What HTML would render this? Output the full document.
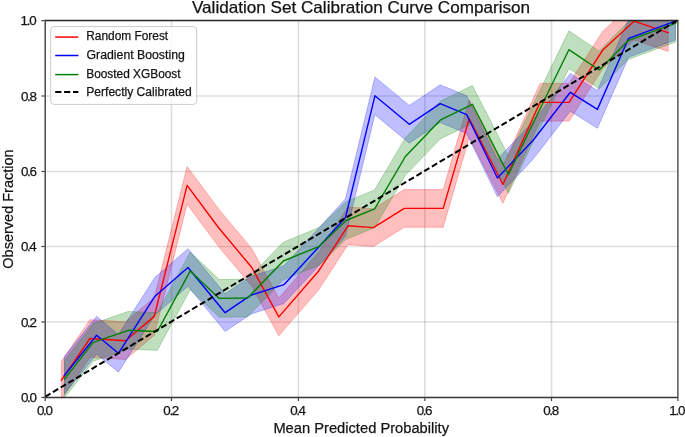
<!DOCTYPE html>
<html><head><meta charset="utf-8"><style>
html,body{margin:0;padding:0;background:#fff;}
body{width:685px;height:437px;overflow:hidden;position:relative;}
svg{position:absolute;left:0;top:0;will-change:transform;}
text{font-family:"Liberation Sans",sans-serif;fill:#141414;stroke:#141414;stroke-width:0.25px;}
</style></head><body>
<svg width="685" height="437" viewBox="0 0 685 437">
<defs><clipPath id="ax"><rect x="45.2" y="20.66" width="632.7" height="376.79"/></clipPath></defs>

<line x1="45.2" y1="20.66" x2="45.2" y2="397.45" stroke="#000" stroke-opacity="0.135" stroke-width="1.6"/>
<line x1="45.2" y1="397.45" x2="677.9" y2="397.45" stroke="#000" stroke-opacity="0.135" stroke-width="1.6"/>
<line x1="171.5" y1="20.66" x2="171.5" y2="397.45" stroke="#000" stroke-opacity="0.135" stroke-width="1.6"/>
<line x1="45.2" y1="322" x2="677.9" y2="322" stroke="#000" stroke-opacity="0.135" stroke-width="1.6"/>
<line x1="298.4" y1="20.66" x2="298.4" y2="397.45" stroke="#000" stroke-opacity="0.135" stroke-width="1.6"/>
<line x1="45.2" y1="246.5" x2="677.9" y2="246.5" stroke="#000" stroke-opacity="0.135" stroke-width="1.6"/>
<line x1="424.85" y1="20.66" x2="424.85" y2="397.45" stroke="#000" stroke-opacity="0.135" stroke-width="1.6"/>
<line x1="45.2" y1="171.5" x2="677.9" y2="171.5" stroke="#000" stroke-opacity="0.135" stroke-width="1.6"/>
<line x1="551.5" y1="20.66" x2="551.5" y2="397.45" stroke="#000" stroke-opacity="0.135" stroke-width="1.6"/>
<line x1="45.2" y1="96" x2="677.9" y2="96" stroke="#000" stroke-opacity="0.135" stroke-width="1.6"/>
<line x1="677.9" y1="20.66" x2="677.9" y2="397.45" stroke="#000" stroke-opacity="0.135" stroke-width="1.6"/>
<line x1="45.2" y1="20.66" x2="677.9" y2="20.66" stroke="#000" stroke-opacity="0.135" stroke-width="1.6"/>
<g clip-path="url(#ax)">
<path d="M61.4 361.36 L90 319.66 L125.5 321.86 L154.3 297.56 L187.1 166.56 L218.4 208.66 L251.8 248.66 L278.8 298.06 L318.5 252.36 L348 206.96 L373.4 208.76 L404.3 189.56 L443.2 189.56 L469.2 99.86 L502.9 165.66 L540 83.56 L569.2 83.36 L602.8 31.16 L634 2.36 L668.2 13.76 L668.2 51.44 L634 40.04 L602.8 68.84 L569.2 121.04 L540 121.24 L502.9 203.34 L469.2 137.54 L443.2 227.24 L404.3 227.24 L373.4 246.44 L348 244.64 L318.5 290.04 L278.8 335.74 L251.8 286.34 L218.4 246.34 L187.1 204.24 L154.3 335.24 L125.5 359.54 L90 357.34 L61.4 399.04 Z" fill="#ff0000" fill-opacity="0.25" stroke="#ff0000" stroke-opacity="0.25" stroke-width="1" stroke-linejoin="round"/>
<path d="M64.3 356.66 L96.6 316.36 L118.4 334.46 L155 277.36 L188 248.66 L225.1 293.86 L250.7 276.46 L283.9 265.86 L316 231.16 L345.5 198.66 L374.9 76.96 L409.3 105.46 L440.2 84.86 L466.7 95.76 L497.4 159.16 L533 121.66 L570.3 73.46 L597.4 90.56 L628.6 19.46 L675.3 2.36 L675.3 40.04 L628.6 57.14 L597.4 128.24 L570.3 111.14 L533 159.34 L497.4 196.84 L466.7 133.44 L440.2 122.54 L409.3 143.14 L374.9 114.64 L345.5 236.34 L316 268.84 L283.9 303.54 L250.7 314.14 L225.1 331.54 L188 286.34 L155 315.04 L118.4 372.14 L96.6 354.04 L64.3 394.34 Z" fill="#0000ff" fill-opacity="0.25" stroke="#0000ff" stroke-opacity="0.25" stroke-width="1" stroke-linejoin="round"/>
<path d="M64.6 360.16 L93.2 323.56 L128.2 311.46 L157.3 312.66 L190.3 252.06 L219.2 279.56 L247.6 279.16 L283.3 242.16 L319.2 227.46 L346 201.66 L374.6 189.96 L405.4 137.66 L440.2 101.36 L472.4 85.46 L508.4 155.76 L538.5 93.16 L568.9 30.86 L599.2 51.16 L628.1 21.86 L675.7 4.36 L675.7 42.04 L628.1 59.54 L599.2 88.84 L568.9 68.54 L538.5 130.84 L508.4 193.44 L472.4 123.14 L440.2 139.04 L405.4 175.34 L374.6 227.64 L346 239.34 L319.2 265.14 L283.3 279.84 L247.6 316.84 L219.2 317.24 L190.3 289.74 L157.3 350.34 L128.2 349.14 L93.2 361.24 L64.6 397.84 Z" fill="#008000" fill-opacity="0.25" stroke="#008000" stroke-opacity="0.25" stroke-width="1" stroke-linejoin="round"/>
<path d="M61.4 380.2 L90 338.5 L125.5 340.7 L154.3 316.4 L187.1 185.4 L218.4 227.5 L251.8 267.5 L278.8 316.9 L318.5 271.2 L348 225.8 L373.4 227.6 L404.3 208.4 L443.2 208.4 L469.2 118.7 L502.9 184.5 L540 102.4 L569.2 102.2 L602.8 50 L634 21.2 L668.2 32.6" fill="none" stroke="#ff0000" stroke-width="1.4" stroke-linejoin="round" stroke-linecap="square"/>
<path d="M64.3 375.5 L96.6 335.2 L118.4 353.3 L155 296.2 L188 267.5 L225.1 312.7 L250.7 295.3 L283.9 284.7 L316 250 L345.5 217.5 L374.9 95.8 L409.3 124.3 L440.2 103.7 L466.7 114.6 L497.4 178 L533 140.5 L570.3 92.3 L597.4 109.4 L628.6 38.3 L675.3 21.2" fill="none" stroke="#0000ff" stroke-width="1.4" stroke-linejoin="round" stroke-linecap="square"/>
<path d="M64.6 379 L93.2 342.4 L128.2 330.3 L157.3 331.5 L190.3 270.9 L219.2 298.4 L247.6 298 L283.3 261 L319.2 246.3 L346 220.5 L374.6 208.8 L405.4 156.5 L440.2 120.2 L472.4 104.3 L508.4 174.6 L538.5 112 L568.9 49.7 L599.2 70 L628.1 40.7 L675.7 23.2" fill="none" stroke="#008000" stroke-width="1.4" stroke-linejoin="round" stroke-linecap="square"/>
<line x1="45.2" y1="396.7" x2="677.9" y2="20.2" stroke="#000" stroke-width="2.0" stroke-dasharray="6.1 2.9"/>
</g>
<line x1="44.5" y1="20.62" x2="678.6" y2="20.62" stroke="#000" stroke-opacity="0.8" stroke-width="1.5"/>
<line x1="44.5" y1="397.46" x2="678.6" y2="397.46" stroke="#000" stroke-opacity="0.75" stroke-width="1.54"/>
<line x1="45.2" y1="21.37" x2="45.2" y2="396.69" stroke="#000" stroke-opacity="0.75" stroke-width="1.3"/>
<line x1="677.87" y1="21.37" x2="677.87" y2="396.69" stroke="#000" stroke-opacity="0.68" stroke-width="1.3"/>
<line x1="45.2" y1="398.2" x2="45.2" y2="401.05" stroke="#000" stroke-opacity="0.75" stroke-width="1.2"/>
<line x1="41.4" y1="397.45" x2="44.55" y2="397.45" stroke="#000" stroke-opacity="0.75" stroke-width="1.2"/>
<text x="36.98" y="414.90" font-size="13.4" textLength="15.85" lengthAdjust="spacing">0.0</text>
<text x="20.98" y="401.95" font-size="13.4" textLength="15.85" lengthAdjust="spacing">0.0</text>
<line x1="171.5" y1="398.2" x2="171.5" y2="401.05" stroke="#000" stroke-opacity="0.75" stroke-width="1.2"/>
<line x1="41.4" y1="322" x2="44.55" y2="322" stroke="#000" stroke-opacity="0.75" stroke-width="1.2"/>
<text x="163.28" y="414.90" font-size="13.4" textLength="16.00" lengthAdjust="spacing">0.2</text>
<text x="20.98" y="326.50" font-size="13.4" textLength="16.00" lengthAdjust="spacing">0.2</text>
<line x1="298.4" y1="398.2" x2="298.4" y2="401.05" stroke="#000" stroke-opacity="0.75" stroke-width="1.2"/>
<line x1="41.4" y1="246.5" x2="44.55" y2="246.5" stroke="#000" stroke-opacity="0.75" stroke-width="1.2"/>
<text x="290.18" y="414.90" font-size="13.4" textLength="15.72" lengthAdjust="spacing">0.4</text>
<text x="20.98" y="251.00" font-size="13.4" textLength="15.72" lengthAdjust="spacing">0.4</text>
<line x1="424.85" y1="398.2" x2="424.85" y2="401.05" stroke="#000" stroke-opacity="0.75" stroke-width="1.2"/>
<line x1="41.4" y1="171.5" x2="44.55" y2="171.5" stroke="#000" stroke-opacity="0.75" stroke-width="1.2"/>
<text x="416.63" y="414.90" font-size="13.4" textLength="15.91" lengthAdjust="spacing">0.6</text>
<text x="20.98" y="176.00" font-size="13.4" textLength="15.91" lengthAdjust="spacing">0.6</text>
<line x1="551.5" y1="398.2" x2="551.5" y2="401.05" stroke="#000" stroke-opacity="0.75" stroke-width="1.2"/>
<line x1="41.4" y1="96" x2="44.55" y2="96" stroke="#000" stroke-opacity="0.75" stroke-width="1.2"/>
<text x="543.28" y="414.90" font-size="13.4" textLength="15.91" lengthAdjust="spacing">0.8</text>
<text x="20.98" y="100.50" font-size="13.4" textLength="15.91" lengthAdjust="spacing">0.8</text>
<line x1="677.9" y1="398.2" x2="677.9" y2="401.05" stroke="#000" stroke-opacity="0.75" stroke-width="1.2"/>
<line x1="41.4" y1="20.66" x2="44.55" y2="20.66" stroke="#000" stroke-opacity="0.75" stroke-width="1.2"/>
<text x="669.18" y="414.90" font-size="13.4" textLength="16.34" lengthAdjust="spacing">1.0</text>
<text x="20.48" y="25.16" font-size="13.4" textLength="16.34" lengthAdjust="spacing">1.0</text>
<text x="191.93" y="13.40" font-size="16.5" textLength="338.18" lengthAdjust="spacingAndGlyphs">Validation Set Calibration Curve Comparison</text>
<text x="273.39" y="432.90" font-size="15.5" textLength="175.63" lengthAdjust="spacingAndGlyphs">Mean Predicted Probability</text>
<text transform="translate(13.00 0.00) rotate(-90)" x="-268.69" y="0" font-size="15.5" textLength="119.33" lengthAdjust="spacingAndGlyphs">Observed Fraction</text>
<rect x="50.7" y="26.6" width="146.0" height="77.8" rx="3.4" ry="3.4" fill="#fff" fill-opacity="0.8" stroke="#cccccc" stroke-width="1"/>
<line x1="55.2" y1="37.1" x2="78.4" y2="37.1" stroke="#ff0000" stroke-width="1.5"/>
<text x="86.22" y="39.80" font-size="12.3" textLength="81.96" lengthAdjust="spacingAndGlyphs">Random Forest</text>
<line x1="55.2" y1="55.5" x2="78.4" y2="55.5" stroke="#0000ff" stroke-width="1.5"/>
<text x="86.58" y="58.70" font-size="12.3" textLength="98.21" lengthAdjust="spacingAndGlyphs">Gradient Boosting</text>
<line x1="55.2" y1="74.6" x2="78.4" y2="74.6" stroke="#008000" stroke-width="1.5"/>
<text x="86.23" y="77.50" font-size="12.3" textLength="94.36" lengthAdjust="spacingAndGlyphs">Boosted XGBoost</text>
<line x1="55.2" y1="92" x2="78.4" y2="92" stroke="#000000" stroke-width="2.2" stroke-dasharray="6.2 2.7"/>
<text x="86.21" y="96.30" font-size="12.3" textLength="105.57" lengthAdjust="spacingAndGlyphs">Perfectly Calibrated</text>
</svg>
</body></html>
